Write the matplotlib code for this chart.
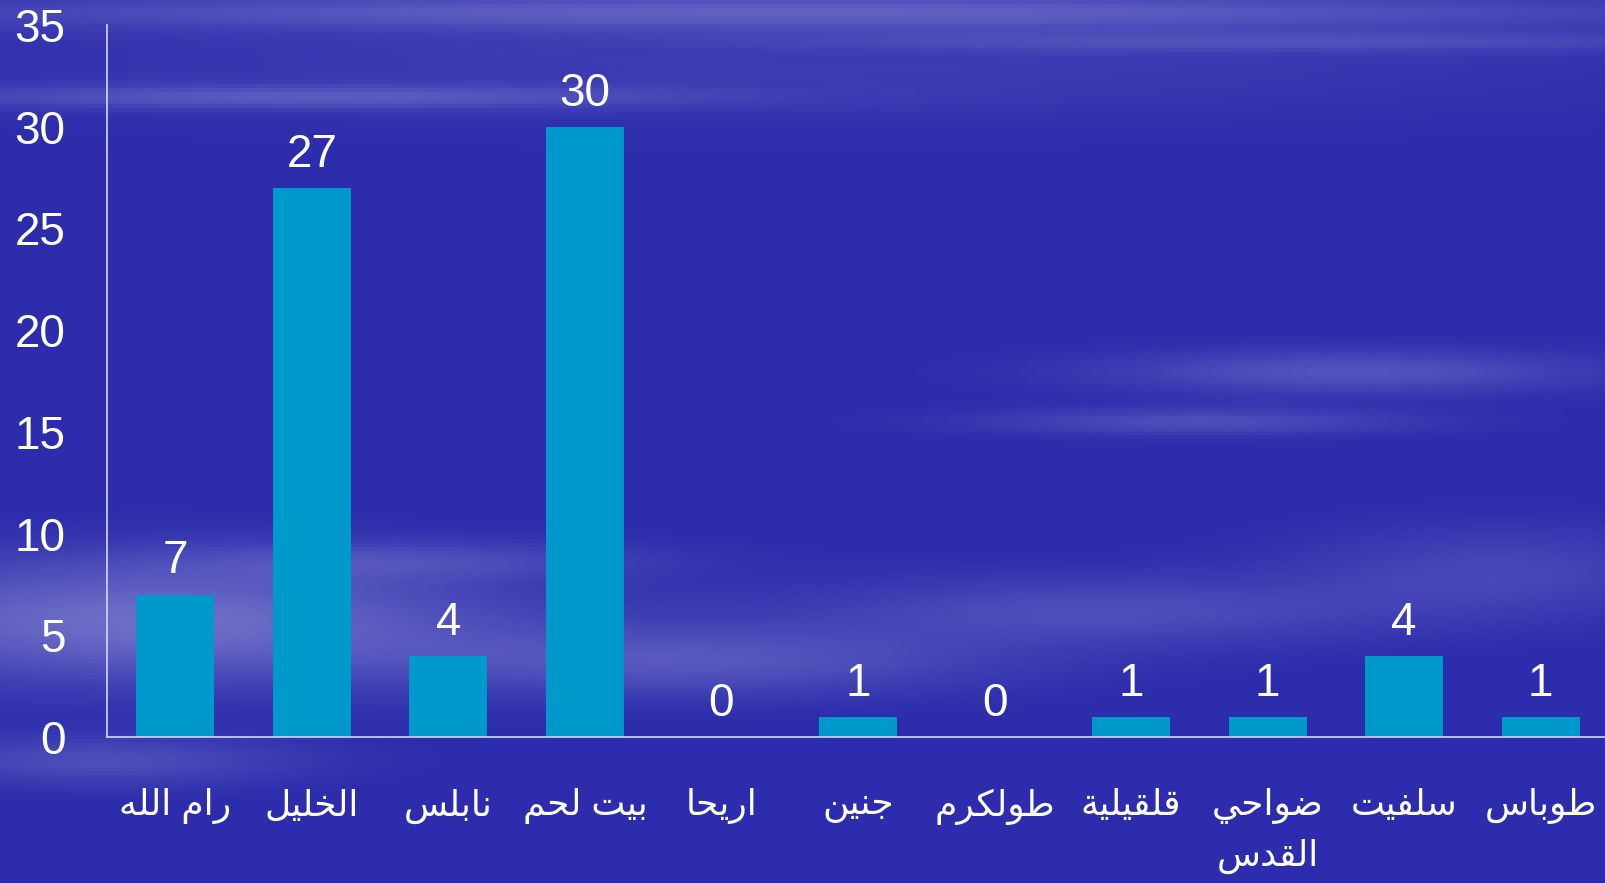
#!/usr/bin/env python3
import numpy as np
import matplotlib
matplotlib.use("Agg")
import matplotlib.pyplot as plt

# chart data (logical Arabic order, left to right as shown)
categories = ["رام الله", "الخليل", "نابلس", "بيت لحم", "اريحا", "جنين",
              "طولكرم", "قلقيلية", "ضواحي\nالقدس", "سلفيت", "طوباس"]
counts = [7, 27, 4, 30, 0, 1, 0, 1, 1, 4, 1]
y_ticks = [0, 5, 10, 15, 20, 25, 30, 35]

# matplotlib has no Arabic shaping, so map letters to presentation forms by hand
DUAL = {"ب": 0xFE8F, "ت": 0xFE95, "ث": 0xFE99, "ج": 0xFE9D, "ح": 0xFEA1, "خ": 0xFEA5,
        "س": 0xFEB1, "ش": 0xFEB5, "ص": 0xFEB9, "ض": 0xFEBD, "ط": 0xFEC1, "ظ": 0xFEC5,
        "ع": 0xFEC9, "غ": 0xFECD, "ف": 0xFED1, "ق": 0xFED5, "ك": 0xFED9, "ل": 0xFEDD,
        "م": 0xFEE1, "ن": 0xFEE5, "ه": 0xFEE9, "ي": 0xFEF1}
RIGHT = {"ا": 0xFE8D, "د": 0xFEA9, "ذ": 0xFEAB, "ر": 0xFEAD, "ز": 0xFEAF, "و": 0xFEED,
         "ة": 0xFE93, "ى": 0xFEEF}


def shape_line(s: str) -> str:
    out = []
    i = 0
    n = len(s)
    while i < n:
        c = s[i]
        prev = s[i - 1] if i > 0 else ""
        joins_prev = prev in DUAL
        # lam-alef ligature
        if c == "ل" and i + 1 < n and s[i + 1] == "ا":
            out.append("\uFEFC" if joins_prev else "\uFEFB")
            i += 2
            continue
        nxt = s[i + 1] if i + 1 < n else ""
        joins_next = nxt in DUAL or nxt in RIGHT
        if c in DUAL:
            base = DUAL[c]
            if joins_prev and joins_next:
                out.append(chr(base + 3))
            elif joins_prev:
                out.append(chr(base + 1))
            elif joins_next:
                out.append(chr(base + 2))
            else:
                out.append(chr(base))
        elif c in RIGHT:
            out.append(chr(RIGHT[c] + 1) if joins_prev else chr(RIGHT[c]))
        else:
            out.append(c)
        i += 1
    return "".join(out)[::-1]


def shape(text: str) -> str:
    return "\n".join(shape_line(line) for line in text.split("\n"))


W, H = 1605, 883
fig = plt.figure(figsize=(W / 100, H / 100), dpi=100)

# soft cloudy blue backdrop
bg = fig.add_axes([0, 0, 1, 1])
bg.axis("off")
yy, xx = np.mgrid[0:H:4, 0:W:4].astype(float)
w = np.zeros_like(xx)
blobs = [  # cx, cy, sx, sy, strength
    (800, 10, 900, 18, 0.35), (300, 95, 400, 12, 0.30), (1300, 40, 500, 10, 0.2),
    (800, 60, 900, 60, 0.12),
    (150, 620, 350, 60, 0.5), (700, 660, 300, 35, 0.30), (400, 560, 250, 20, 0.2),
    (1350, 370, 250, 22, 0.30), (1200, 420, 220, 14, 0.25),
    (1100, 610, 300, 35, 0.25), (1500, 570, 200, 45, 0.20), (100, 760, 200, 25, 0.25),
]
for cx, cy, sx, sy, k in blobs:
    w += k * np.exp(-((xx - cx) / sx) ** 2 - ((yy - cy) / sy) ** 2)
w = np.clip(w, 0, 0.6)
base = np.array([44, 44, 172]) / 255
cloud = np.array([175, 175, 228]) / 255
img = base * (1 - w[..., None]) + cloud * w[..., None]
bg.imshow(img, aspect="auto", extent=[0, 1, 0, 1], zorder=0)
bg.set_xlim(0, 1)
bg.set_ylim(0, 1)

ax = fig.add_axes([107 / W, 1 - 737 / H, 1502 / W, 712 / H])
ax.patch.set_alpha(0)

x = np.arange(len(categories))
ax.bar(x, counts, width=0.57, color="#0099cc", zorder=2)

for xi, v in zip(x, counts):
    ax.annotate(str(v), (xi, v), xytext=(0, 8), textcoords="offset points",
                ha="center", va="bottom", fontsize=33, color="white",
                family=["Liberation Sans", "DejaVu Sans"])

ax.set_xlim(-0.5, len(categories) - 0.5)
ax.set_ylim(0, 35)
ax.set_yticks(y_ticks)
ax.set_xticks(x)
ax.set_xticklabels([shape(c) for c in categories], fontsize=26, color="white",
                   family=["Liberation Sans", "DejaVu Sans"], linespacing=1.55)
for lab in ax.get_yticklabels():
    lab.set_fontsize(33)
    lab.set_color("white")
    lab.set_family(["Liberation Sans", "DejaVu Sans"])
ax.tick_params(axis="x", length=0, pad=37)
ax.tick_params(axis="y", length=0, pad=30)

for side in ("top", "right"):
    ax.spines[side].set_visible(False)
for side in ("left", "bottom"):
    ax.spines[side].set_color("#d4d4ee")
    ax.spines[side].set_linewidth(1.2)

fig.savefig("out.png", dpi=100)
